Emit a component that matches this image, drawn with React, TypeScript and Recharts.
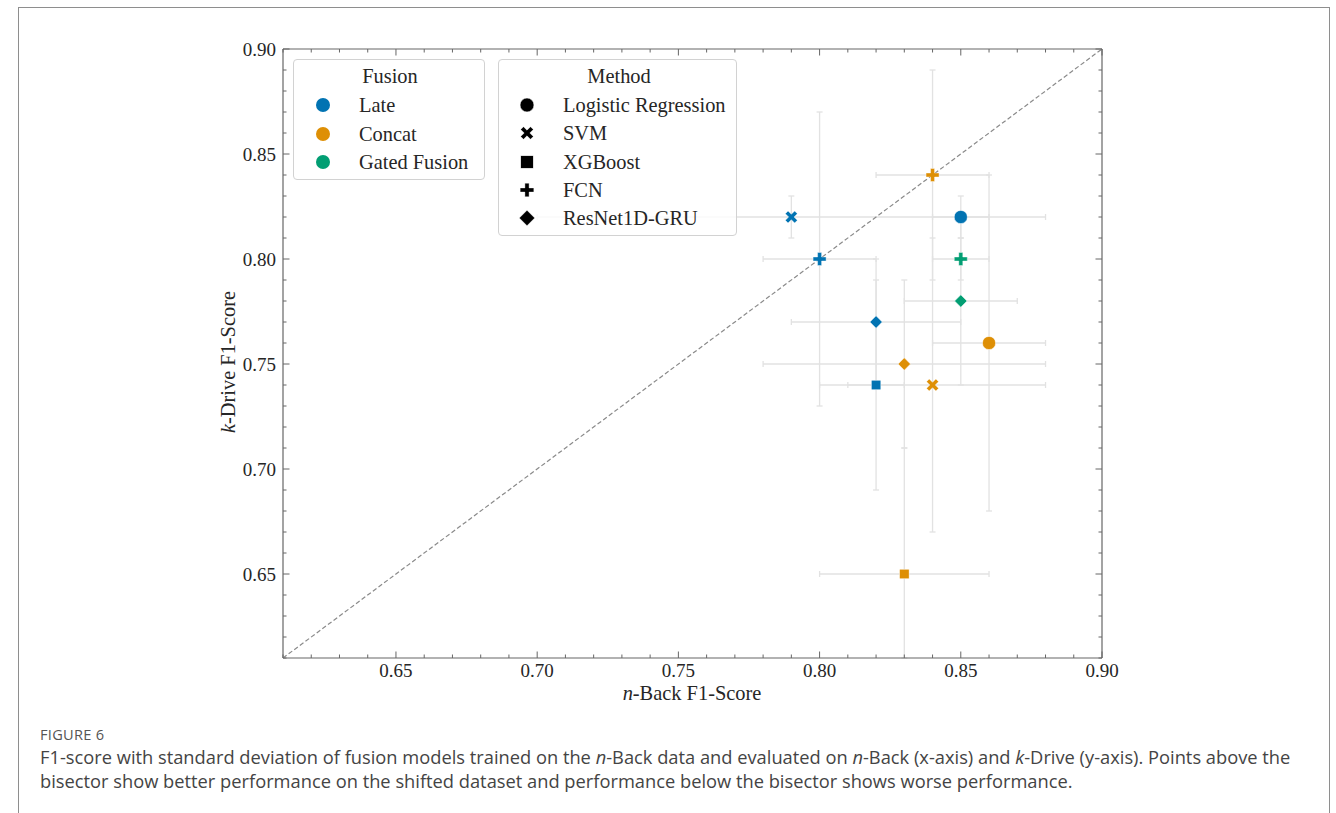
import React from 'react';
import { ScatterChart, Scatter, XAxis, YAxis, ErrorBar } from 'recharts';

// ---------- data ----------
const fusions = ['Late', 'Concat', 'Gated Fusion'];
const fusionColors = ['#0173B2', '#DE8F05', '#029E73'];
const methods = ['Logistic Regression', 'SVM', 'XGBoost', 'FCN', 'ResNet1D-GRU'];

const lateMethods = ['Logistic Regression', 'SVM', 'XGBoost', 'FCN', 'ResNet1D-GRU'];
const lateNBack = [0.85, 0.79, 0.82, 0.8, 0.82];
const lateKDrive = [0.82, 0.82, 0.74, 0.8, 0.77];
const lateNBackStd = [0.01, 0.09, 0.01, 0.02, 0.03];
const lateKDriveStd = [0.01, 0.01, 0.05, 0.07, 0.03];

const concatMethods = ['Logistic Regression', 'SVM', 'XGBoost', 'FCN', 'ResNet1D-GRU'];
const concatNBack = [0.86, 0.84, 0.83, 0.84, 0.83];
const concatKDrive = [0.76, 0.74, 0.65, 0.84, 0.75];
const concatNBackStd = [0.02, 0.04, 0.03, 0.02, 0.05];
const concatKDriveStd = [0.08, 0.07, 0.06, 0.05, 0.04];

const gatedMethods = ['FCN', 'ResNet1D-GRU'];
const gatedNBack = [0.85, 0.85];
const gatedKDrive = [0.8, 0.78];
const gatedNBackStd = [0.01, 0.02];
const gatedKDriveStd = [0.01, 0.04];

const axisDomain = [0.61, 0.9];
const allTicks = [
  0.61, 0.62, 0.63, 0.64, 0.65, 0.66, 0.67, 0.68, 0.69, 0.7,
  0.71, 0.72, 0.73, 0.74, 0.75, 0.76, 0.77, 0.78, 0.79, 0.8,
  0.81, 0.82, 0.83, 0.84, 0.85, 0.86, 0.87, 0.88, 0.89, 0.9,
];
const majorTicks = [0.65, 0.7, 0.75, 0.8, 0.85, 0.9];
const bisector = [
  { x: 0.61, y: 0.61 },
  { x: 0.9, y: 0.9 },
];

// ---------- build rows (error bars clipped to the visible axes range) ----------
const lo = axisDomain[0];
const hi = axisDomain[1];
type Row = { x: number; y: number; xErr: number[]; yErr: number[]; method: string; fusion: string };
const clipErr = (v: number, e: number) => [Math.min(e, v - lo), Math.min(e, hi - v)];
const build = (fusion: string, ms: string[], xs: number[], ys: number[], xe: number[], ye: number[]): Row[] =>
  ms.map((m, i) => ({
    x: xs[i],
    y: ys[i],
    xErr: clipErr(xs[i], xe[i]),
    yErr: clipErr(ys[i], ye[i]),
    method: m,
    fusion,
  }));

const seriesData: Row[][] = [
  build('Late', lateMethods, lateNBack, lateKDrive, lateNBackStd, lateKDriveStd),
  build('Concat', concatMethods, concatNBack, concatKDrive, concatNBackStd, concatKDriveStd),
  build('Gated Fusion', gatedMethods, gatedNBack, gatedKDrive, gatedNBackStd, gatedKDriveStd),
];
const allRows: Row[] = ([] as Row[]).concat(...seriesData);

// ---------- styling ----------
const SERIF = "'Liberation Serif', 'DejaVu Serif', serif";
const SANS = "'Open Sans', 'Noto Sans', sans-serif";
const TEXT = '#262626';
const FRAME = '#666';
const ERR = '#e2e2e2';

const isMajor = (v: number) => majorTicks.some((m) => Math.abs(m - v) < 1e-6);

// ---------- marker shapes ----------
const plusPts = (cx: number, cy: number, s: number, t: number, rot: number) => {
  const base = [
    [-t, -s], [t, -s], [t, -t], [s, -t], [s, t], [t, t],
    [t, s], [-t, s], [-t, t], [-s, t], [-s, -t], [-t, -t],
  ];
  const c = Math.cos(rot);
  const sn = Math.sin(rot);
  return base.map(([px, py]) => `${cx + px * c - py * sn},${cy + px * sn + py * c}`).join(' ');
};

const Marker = ({ method, cx, cy, color, scale = 1 }: { method: string; cx: number; cy: number; color: string; scale?: number }) => {
  const k = scale;
  switch (method) {
    case 'Logistic Regression':
      return <circle cx={cx} cy={cy} r={6.6 * k} fill={color} stroke="#fff" strokeWidth={0.5} />;
    case 'SVM':
      return <polygon points={plusPts(cx, cy, 6.6 * k, 1.9 * k, Math.PI / 4)} fill={color} stroke="#fff" strokeWidth={0.4} />;
    case 'XGBoost':
      return <rect x={cx - 4.8 * k} y={cy - 4.8 * k} width={9.6 * k} height={9.6 * k} fill={color} stroke="#fff" strokeWidth={0.5} />;
    case 'FCN':
      return <polygon points={plusPts(cx, cy, 6.5 * k, 2.0 * k, 0)} fill={color} stroke="#fff" strokeWidth={0.4} />;
    default:
      return (
        <polygon
          points={`${cx},${cy - 6.2 * k} ${cx + 6.2 * k},${cy} ${cx},${cy + 6.2 * k} ${cx - 6.2 * k},${cy}`}
          fill={color}
          stroke="#fff"
          strokeWidth={0.5}
        />
      );
  }
};

// ---------- ticks ----------
const BottomTick = (props: any) => {
  const { x, y, payload } = props;
  const v = payload.value as number;
  const major = isMajor(v);
  return (
    <g>
      <line x1={x} x2={x} y1={y} y2={y - (major ? 6.5 : 3.5)} stroke={FRAME} strokeWidth={1} />
      {major && (
        <text x={x} y={y + 18.5} textAnchor="middle" fontFamily={SERIF} fontSize={19} fill={TEXT}>
          {v.toFixed(2)}
        </text>
      )}
    </g>
  );
};
const TopTick = (props: any) => {
  const { x, y, payload } = props;
  const major = isMajor(payload.value);
  return <line x1={x} x2={x} y1={y} y2={y + (major ? 6.5 : 3.5)} stroke={FRAME} strokeWidth={1} />;
};
const LeftTick = (props: any) => {
  const { x, y, payload } = props;
  const v = payload.value as number;
  const major = isMajor(v);
  return (
    <g>
      <line x1={x} x2={x + (major ? 6.5 : 3.5)} y1={y} y2={y} stroke={FRAME} strokeWidth={1} />
      {major && (
        <text x={x - 7} y={y + 6.5} textAnchor="end" fontFamily={SERIF} fontSize={19} fill={TEXT}>
          {v.toFixed(2)}
        </text>
      )}
    </g>
  );
};
const RightTick = (props: any) => {
  const { x, y, payload } = props;
  const major = isMajor(payload.value);
  return <line x1={x} x2={x - (major ? 6.5 : 3.5)} y1={y} y2={y} stroke={FRAME} strokeWidth={1} />;
};

// ---------- legend ----------
const LegendBox = ({ left, top, width, height, title, titleX, rows }: any) => (
  <div
    style={{
      position: 'absolute',
      left,
      top,
      width,
      height,
      boxSizing: 'border-box',
      border: '1px solid #d2d2d2',
      borderRadius: 4,
      background: 'rgba(255,255,255,0.8)',
      fontFamily: SERIF,
      fontSize: 20.4,
      color: TEXT,
    }}
  >
    <div style={{ position: 'absolute', left: titleX - 100, width: 200, top: 4, lineHeight: '24px', textAlign: 'center' }}>{title}</div>
    {rows.map((r: any, i: number) => (
      <React.Fragment key={i}>
        <svg style={{ position: 'absolute', left: r.mx - 10, top: r.cy - 10 }} width={20} height={20}>
          {r.marker}
        </svg>
        <div style={{ position: 'absolute', left: r.tx, top: r.cy - 12, lineHeight: '24px', whiteSpace: 'nowrap' }}>{r.label}</div>
      </React.Fragment>
    ))}
  </div>
);

const fusionRowsY = [45, 74, 102];
const methodRowsY = [45, 73, 102, 130, 158];

const App = () => {
  const fusionRows = fusions.map((f, i) => ({
    cy: fusionRowsY[i],
    mx: 29,
    tx: 65,
    label: f,
    marker: <circle cx={10} cy={10} r={7} fill={fusionColors[i]} />,
  }));
  const methodRows = methods.map((m, i) => ({
    cy: methodRowsY[i],
    mx: 28,
    tx: 64,
    label: m,
    marker: <Marker method={m} cx={10} cy={10} color="#000" scale={m === 'ResNet1D-GRU' ? 1.25 : m === 'XGBoost' ? 1.3 : 1.05} />,
  }));

  return (
    <div style={{ position: 'absolute', left: 0, top: 0, width: 1336, height: 813, overflow: 'hidden', background: '#fff' }}>
      {/* outer figure frame */}
      <div
        style={{
          position: 'absolute',
          left: 18,
          top: 7,
          width: 1312,
          height: 820,
          boxSizing: 'border-box',
          borderTop: '1.5px solid #8e8e8e',
          borderLeft: '1.5px solid #8e8e8e',
          borderRight: '1.5px solid #8e8e8e',
        }}
      />
      <div style={{ position: 'absolute', left: 0, top: 0 }}>
        <ScatterChart width={1336} height={813} margin={{ top: 39, left: 223, right: 224, bottom: 115 }}>
          <XAxis
            xAxisId="b"
            type="number"
            dataKey="x"
            domain={axisDomain}
            allowDataOverflow
            ticks={allTicks}
            interval={0}
            tickSize={0}
            tickMargin={0}
            height={40}
            tick={<BottomTick />}
            tickLine={false}
            axisLine={{ stroke: FRAME, strokeWidth: 1.2 }}
          />
          <XAxis
            xAxisId="t"
            orientation="top"
            type="number"
            dataKey="x"
            domain={axisDomain}
            allowDataOverflow
            ticks={allTicks}
            interval={0}
            tickSize={0}
            tickMargin={0}
            height={10}
            tick={<TopTick />}
            tickLine={false}
            axisLine={{ stroke: FRAME, strokeWidth: 1.2 }}
          />
          <YAxis
            yAxisId="l"
            type="number"
            dataKey="y"
            domain={axisDomain}
            allowDataOverflow
            ticks={allTicks}
            interval={0}
            tickSize={0}
            tickMargin={0}
            width={60}
            tick={<LeftTick />}
            tickLine={false}
            axisLine={{ stroke: FRAME, strokeWidth: 1.2 }}
          />
          <YAxis
            yAxisId="r"
            orientation="right"
            type="number"
            dataKey="y"
            domain={axisDomain}
            allowDataOverflow
            ticks={allTicks}
            interval={0}
            tickSize={0}
            tickMargin={0}
            width={10}
            tick={<RightTick />}
            tickLine={false}
            axisLine={{ stroke: FRAME, strokeWidth: 1.2 }}
          />

          {/* error bars (all models) */}
          <Scatter
            name="errors"
            data={allRows}
            xAxisId="b"
            yAxisId="l"
            isAnimationActive={false}
            shape={() => <g />}
          >
            <ErrorBar dataKey="xErr" direction="x" stroke={ERR} strokeWidth={1.3} width={3} isAnimationActive={false} />
            <ErrorBar dataKey="yErr" direction="y" stroke={ERR} strokeWidth={1.3} width={3} isAnimationActive={false} />
          </Scatter>

          {/* bisector */}
          <Scatter
            name="bisector"
            data={bisector}
            xAxisId="b"
            yAxisId="l"
            isAnimationActive={false}
            line={{ stroke: '#8a8a8a', strokeWidth: 1.2, strokeDasharray: '4.5 2.5' }}
            shape={() => <g />}
          />

          {/* markers */}
          {seriesData.map((rows, i) => (
            <Scatter
              key={fusions[i]}
              name={fusions[i]}
              data={rows}
              xAxisId="b"
              yAxisId="l"
              isAnimationActive={false}
              shape={(p: any) => <Marker method={p.payload.method} cx={p.cx} cy={p.cy} color={fusionColors[i]} />}
            />
          ))}
        </ScatterChart>
      </div>

      {/* legends */}
      <LegendBox left={293} top={59} width={192} height={121} title="Fusion" titleX={96} rows={fusionRows} />
      <LegendBox left={498} top={59} width={239} height={177} title="Method" titleX={120} rows={methodRows} />

      {/* axis titles */}
      <div
        style={{
          position: 'absolute',
          left: 492,
          width: 400,
          top: 681,
          lineHeight: '24px',
          textAlign: 'center',
          fontFamily: SERIF,
          fontSize: 20.4,
          color: TEXT,
          whiteSpace: 'nowrap',
        }}
      >
        <i>n</i>-Back F1-Score
      </div>
      <div
        style={{
          position: 'absolute',
          left: 228 - 200,
          width: 400,
          top: 362 - 12,
          lineHeight: '24px',
          textAlign: 'center',
          fontFamily: SERIF,
          fontSize: 20.4,
          color: TEXT,
          whiteSpace: 'nowrap',
          transform: 'rotate(-90deg)',
          transformOrigin: '200px 12px',
        }}
      >
        <i>k</i>-Drive F1-Score
      </div>

      {/* caption */}
      <div
        style={{
          position: 'absolute',
          left: 40,
          top: 725,
          lineHeight: '18px',
          fontFamily: SANS,
          fontSize: 14.6,
          color: '#555',
          letterSpacing: 0.3,
        }}
      >
        FIGURE 6
      </div>
      <div
        style={{
          position: 'absolute',
          left: 40,
          top: 745,
          lineHeight: '23.5px',
          fontFamily: SANS,
          fontSize: 18.3,
          color: '#444',
          whiteSpace: 'nowrap',
        }}
      >
        <div>
          F1-score with standard deviation of fusion models trained on the <i>n</i>-Back data and evaluated on <i>n</i>-Back
          (x-axis) and <i>k</i>-Drive (y-axis). Points above the
        </div>
        <div>bisector show better performance on the shifted dataset and performance below the bisector shows worse performance.</div>
      </div>
    </div>
  );
};

export default App;
